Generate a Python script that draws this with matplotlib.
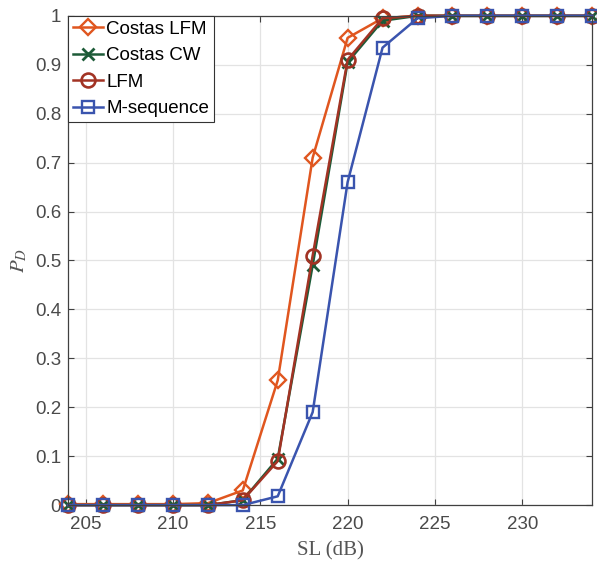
import numpy as np
import matplotlib
matplotlib.use('Agg')
from matplotlib import pyplot as plt

plt.rcParams['mathtext.fontset'] = 'stix'

sl = [204, 206, 208, 210, 212, 214, 216, 218, 220, 222, 224, 226, 228, 230, 232, 234]

costas_lfm = [0.002, 0.002, 0.002, 0.002, 0.004, 0.03, 0.255, 0.71, 0.955, 0.995, 1, 1, 1, 1, 1, 1]
costas_cw  = [0, 0, 0, 0, 0, 0.01, 0.095, 0.49, 0.905, 0.99, 1, 1, 1, 1, 1, 1]
lfm        = [0, 0, 0, 0, 0, 0.01, 0.09, 0.51, 0.91, 0.995, 1, 1, 1, 1, 1, 1]
m_seq      = [0, 0, 0, 0, 0, 0.0, 0.018, 0.19, 0.66, 0.935, 0.995, 1, 1, 1, 1, 1]

labels = ['Costas LFM', 'Costas CW', 'LFM', 'M-sequence']

fig = plt.figure(figsize=(5.97, 5.65), dpi=100)
ax = fig.add_axes([0.114, 0.106, 0.878, 0.866])

ax.plot(sl, costas_lfm, color='#E0561F', marker='D', markersize=8, mfc='none', mew=1.7, lw=1.8,
        label=labels[0], clip_on=False)
ax.plot(sl, costas_cw, color='#1D5B38', marker='x', markersize=9, mew=2.0, lw=1.8,
        label=labels[1], clip_on=False)
ax.plot(sl, lfm, color='#A23324', marker='o', markersize=10, mfc='none', mew=1.9, lw=1.8,
        label=labels[2], clip_on=False)
ax.plot(sl, m_seq, color='#3A54AE', marker='s', markersize=8, mfc='none', mew=1.7, lw=1.8,
        label=labels[3], clip_on=False)

ax.set_xlim(204, 234)
ax.set_ylim(0, 1)
ax.set_xticks([205, 210, 215, 220, 225, 230])
ax.set_yticks(np.arange(0, 1.01, 0.1))
ax.set_yticklabels(['0', '0.1', '0.2', '0.3', '0.4', '0.5', '0.6', '0.7', '0.8', '0.9', '1'])

ax.grid(True, color='#E3E3E3', lw=0.9)
ax.set_axisbelow(True)
ax.tick_params(direction='in', length=4, colors='#404040', labelsize=13.5, labelcolor='#4a4a4a',
               top=True, right=True)
ax.tick_params(axis='x', pad=8)
ax.tick_params(axis='y', pad=5)
for lab in ax.get_xticklabels() + ax.get_yticklabels():
    lab.set_family('Liberation Sans')
for s in ax.spines.values():
    s.set_color('#404040')
    s.set_linewidth(0.9)

ax.set_xlabel('SL (dB)', family='Liberation Serif', fontsize=15, color='#555555', labelpad=6)
ax.set_ylabel('$P_D$', fontsize=15, color='#555555')

leg = ax.legend(loc='upper left', prop={'family': 'Liberation Sans', 'size': 13.5}, fancybox=False,
                edgecolor='#333333', framealpha=1, borderpad=0.25, labelspacing=0.5,
                handlelength=1.6, handletextpad=0.2, borderaxespad=0.0)
leg.get_frame().set_linewidth(0.8)

plt.savefig('out.png', dpi=100)
